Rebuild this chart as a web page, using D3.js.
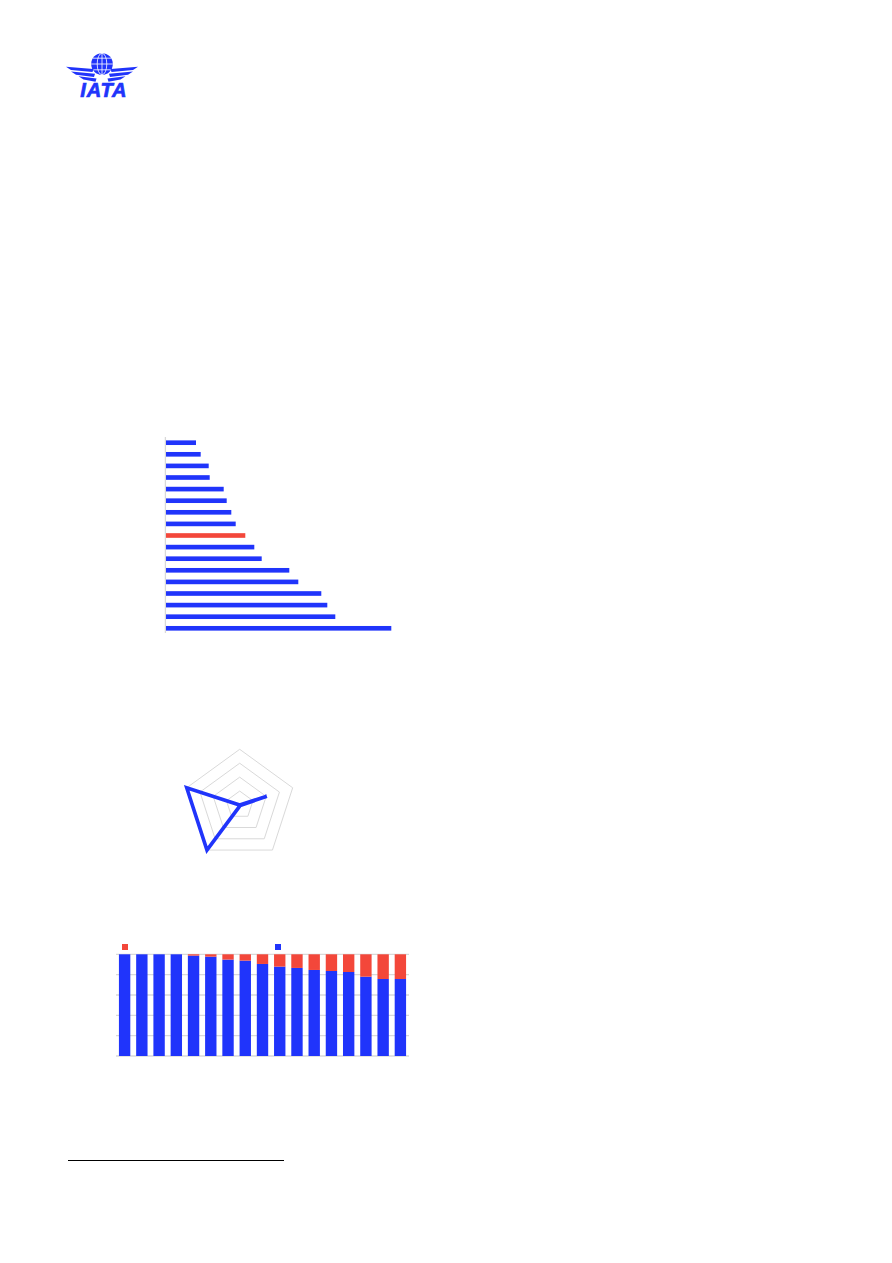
<!DOCTYPE html>
<html>
<head>
<meta charset="utf-8">
<script src="https://cdn.jsdelivr.net/npm/d3@7"></script>
<style>
  html, body { margin: 0; padding: 0; background: #fff; }
  svg { display: block; }
</style>
</head>
<body>
<svg id="page" width="892" height="1263"></svg>
<script>
// ---------------- DATA ----------------
// Horizontal bar chart (17 bars, top to bottom); index 8 is highlighted
const hbarValues = [30, 34.7, 42.7, 43.7, 57.7, 60.7, 65.3, 69.7, 79.3, 88.3, 95.7, 123.3, 132.3, 155.3, 161.3, 169.3, 225.3];
const hbarHighlight = [false, false, false, false, false, false, false, false, true, false, false, false, false, false, false, false, false];

// Radar chart (5 axes, max 4)
const radarAxes = ["a1", "a2", "a3", "a4", "a5"];
const radarValues = [0, 2.05, 0.05, 4, 4];
const radarRings = [1, 2, 3, 4];

// Stacked 100% bar chart (17 bars)
const stackBlue = [100, 100, 100, 100, 98.7, 97.7, 94.8, 93.8, 90.5, 87.9, 86.6, 84.6, 83.6, 82.6, 78.0, 75.7, 75.7];
const stackRed = stackBlue.map(v => +(100 - v).toFixed(1));
const stackTicks = [0, 20, 40, 60, 80, 100];

const BLUE = "#2034fb";
const RED = "#f3473a";
const GRID = "#d9d9d9";

const svg = d3.select("#page");

// ---------------- LOGO ----------------
const logo = svg.append("g");
const gcx = 102, gcy = 64, gr = 10.8;
logo.append("circle").attr("cx", gcx).attr("cy", gcy).attr("r", gr).attr("fill", BLUE);
const gl = logo.append("g").attr("fill", "none").attr("stroke", "#fff").attr("stroke-width", 0.8);
gl.append("ellipse").attr("cx", gcx).attr("cy", gcy).attr("rx", 4.8).attr("ry", gr);
gl.append("line").attr("x1", gcx).attr("x2", gcx).attr("y1", gcy - gr).attr("y2", gcy + gr);
[-5.8, 0, 5.8].forEach(d => {
  const w = Math.sqrt(gr * gr - d * d);
  gl.append("line").attr("x1", gcx - w).attr("x2", gcx + w).attr("y1", gcy + d).attr("y2", gcy + d);
});
// wings
const tipX = [66, 71, 78.5];
const wingStripes = [0, 1, 2].map(i => {
  const yl = 68.3 + 4.8 * i, x0 = tipX[i], xr = 93.5 + 1.5 * i, yr = yl + 2.2, h = 3.2;
  return [[x0, yl - h / 2], [xr, yr - h / 2], [xr - 1, yr + h / 2], [x0 + 5, yl + h / 2]];
});
wingStripes.forEach(pts => {
  logo.append("path").attr("d", "M" + pts.map(p => p.join(",")).join("L") + "Z").attr("fill", BLUE);
  logo.append("path").attr("d", "M" + pts.map(p => [2 * gcx - p[0], p[1]].join(",")).join("L") + "Z").attr("fill", BLUE);
});
logo.append("text").attr("x", 103.8).attr("y", 96.6).attr("text-anchor", "middle")
  .attr("font-family", "Liberation Sans, Arial, sans-serif").attr("font-weight", "bold").attr("font-style", "italic")
  .attr("font-size", 20).attr("letter-spacing", 0.8).attr("fill", BLUE)
  .attr("stroke", BLUE).attr("stroke-width", 0.7).text("IATA");

// ---------------- HORIZONTAL BARS ----------------
const hx = d3.scaleLinear().domain([0, 225.3]).range([166, 391.3]);
const hy = d3.scaleBand().domain(d3.range(hbarValues.length)).range([436.9, 634.1]).paddingInner(0.6).paddingOuter(0.3);
svg.append("line").attr("x1", 165.4).attr("x2", 165.4).attr("y1", 437).attr("y2", 633)
  .attr("stroke", GRID).attr("stroke-width", 1.3);
svg.append("g").selectAll("rect").data(hbarValues).join("rect")
  .attr("x", hx(0)).attr("y", (d, i) => hy(i))
  .attr("width", d => hx(d) - hx(0)).attr("height", hy.bandwidth())
  .attr("fill", (d, i) => hbarHighlight[i] ? RED : BLUE);

// ---------------- RADAR ----------------
const rcx = 239.7, rcy = 805, R = 55.7;
const rr = d3.scaleLinear().domain([0, 4]).range([0, R]);
const ang = i => -Math.PI / 2 + i * 2 * Math.PI / radarAxes.length;
const radar = svg.append("g");
radar.selectAll("path.ring").data(radarRings).join("path").attr("class", "ring")
  .attr("d", v => "M" + radarAxes.map((a, i) => [rcx + rr(v) * Math.cos(ang(i)), rcy + rr(v) * Math.sin(ang(i))].join(",")).join("L") + "Z")
  .attr("fill", "none").attr("stroke", GRID).attr("stroke-width", 1);
radar.append("path")
  .attr("d", "M" + radarValues.map((v, i) => [rcx + rr(v) * Math.cos(ang(i)), rcy + rr(v) * Math.sin(ang(i))].join(",")).join("L") + "Z")
  .attr("fill", "none").attr("stroke", BLUE).attr("stroke-width", 3.6).attr("stroke-linejoin", "miter").attr("stroke-miterlimit", 10);

// ---------------- STACKED BARS ----------------
const sx = d3.scaleBand().domain(d3.range(stackBlue.length)).range([116, 409]).paddingInner(0.34).paddingOuter(0.17);
const sy = d3.scaleLinear().domain([0, 100]).range([1056, 954.3]);
svg.append("g").selectAll("line").data(stackTicks).join("line")
  .attr("x1", 116).attr("x2", 409).attr("y1", d => sy(d)).attr("y2", d => sy(d))
  .attr("stroke", GRID).attr("stroke-width", 1.3);
svg.append("g").selectAll("rect").data(stackBlue).join("rect")
  .attr("x", (d, i) => sx(i)).attr("y", d => sy(d)).attr("width", sx.bandwidth())
  .attr("height", d => sy(0) - sy(d)).attr("fill", BLUE);
svg.append("g").selectAll("rect").data(stackRed).join("rect")
  .attr("x", (d, i) => sx(i)).attr("y", (d, i) => sy(stackBlue[i] + d)).attr("width", sx.bandwidth())
  .attr("height", d => sy(0) - sy(d)).attr("fill", RED);
// legend swatches
svg.append("rect").attr("x", 122).attr("y", 944).attr("width", 6).attr("height", 6).attr("fill", RED);
svg.append("rect").attr("x", 275).attr("y", 944).attr("width", 6).attr("height", 6).attr("fill", BLUE);

// ---------------- FOOTNOTE RULE ----------------
svg.append("line").attr("x1", 68).attr("x2", 284).attr("y1", 1160.5).attr("y2", 1160.5)
  .attr("stroke", "#000").attr("stroke-width", 1);
</script>
</body>
</html>
